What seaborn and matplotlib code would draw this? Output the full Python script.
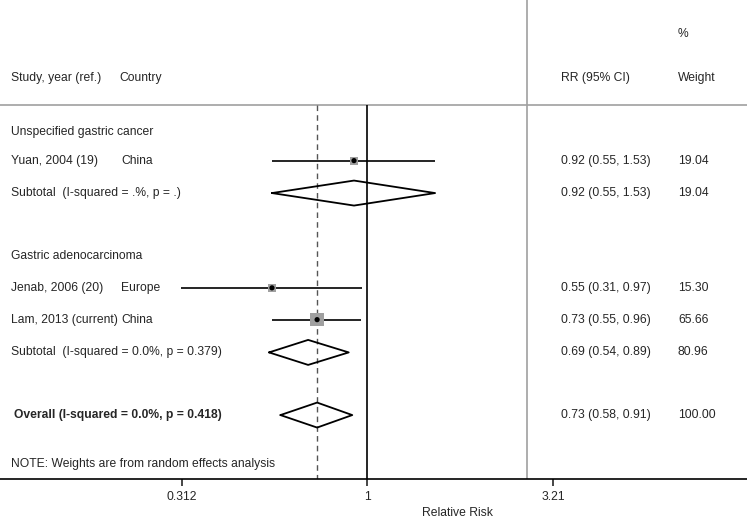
import matplotlib
matplotlib.use("Agg")
import matplotlib.pyplot as plt
import numpy as np
import pandas as pd
import seaborn as sns

# Data
studies = ["Yuan, 2004 (19)", "Jenab, 2006 (20)", "Lam, 2013 (current)"]
countries = ["China", "Europe", "China"]
study_rr = [0.92, 0.55, 0.73]
study_lo = [0.55, 0.31, 0.55]
study_hi = [1.53, 0.97, 0.96]
study_wt = [19.04, 15.30, 65.66]
study_row = [1, 5, 6]

groups = ["Unspecified gastric cancer", "Gastric adenocarcinoma"]
group_row = [0.09, 4]

sub_labels = ["Subtotal  (I-squared = .%, p = .)", "Subtotal  (I-squared = 0.0%, p = 0.379)"]
sub_rr = [0.92, 0.69]
sub_lo = [0.55, 0.54]
sub_hi = [1.53, 0.89]
sub_wt = [19.04, 80.96]
sub_row = [2.02, 7.03]

overall_label = "Overall (I-squared = 0.0%, p = 0.418)"
overall_rr, overall_lo, overall_hi, overall_wt = 0.73, 0.58, 0.91, 100.00
overall_row = 9

tick_vals = [0.312, 1, 3.21]
tick_labels = ["0.312", "1", "3.21"]

df = pd.DataFrame({"study": studies, "rr": study_rr, "lo": study_lo,
                   "hi": study_hi, "weight": study_wt, "row": study_row})

sns.set_style("white")
plt.rcParams["font.family"] = ["Liberation Sans", "DejaVu Sans"]
fs = 8.7

fig = plt.figure(figsize=(7.47, 5.2), dpi=100)
ax = fig.add_axes([0, 41 / 520, 1, 479 / 520])
ax.set_xscale("log")
ax.set_xlim(0.0999, 10.82)
ax.set_ylim(11.01, -4.05)

for s in ["top", "left", "right"]:
    ax.spines[s].set_visible(False)
ax.spines["bottom"].set_linewidth(1.2)
ax.spines["bottom"].set_color("black")
ax.set_yticks([])
ax.set_xticks(tick_vals)
ax.set_xticklabels(tick_labels, fontsize=fs)
ax.minorticks_off()
ax.tick_params(axis="x", direction="out", length=5, width=1.2, pad=4, bottom=True)

line_top = -0.75
# gray frame lines
ax.axhline(line_top, color="#a0a0a0", lw=1.2, zorder=1)
ax.axvline(2.72, ymin=0, ymax=1, color="#a0a0a0", lw=1.2, zorder=1)
# null line and overall estimate line
ax.vlines(1, line_top, 11.01, color="black", lw=1.2, zorder=2)
ax.vlines(overall_rr, line_top, 11.01, color="#555555", lw=1, ls=(0, (4, 3)), zorder=2)

# confidence intervals
ax.hlines(df["row"], df["lo"], df["hi"], color="black", lw=1.2, zorder=3)
# weight squares
sns.scatterplot(data=df, x="rr", y="row", size="weight", sizes=(30, 95),
                size_norm=(15.30, 65.66), marker="s", color="#a0a0a0",
                edgecolor="none", legend=False, ax=ax, zorder=4)
sns.scatterplot(data=df, x="rr", y="row", color="black", s=14,
                edgecolor="none", legend=False, ax=ax, zorder=5)
ax.set_xlabel("")
ax.set_ylabel("")

# diamonds
half = 12.5 / 31.8
def diamond(row, est, lo, hi):
    xs = [lo, est, hi, est, lo]
    ys = [row, row - half, row, row + half, row]
    ax.plot(xs, ys, color="black", lw=1.3, zorder=3)

for r, e, l, h in zip(sub_row, sub_rr, sub_lo, sub_hi):
    diamond(r, e, l, h)
diamond(overall_row, overall_rr, overall_lo, overall_hi)

# text columns
tr = ax.get_yaxis_transform()
x_study = 11 / 747
x_country = 121 / 747
x_rr = 561 / 747
x_wt = 678 / 747
kw = dict(transform=tr, va="center", ha="left", fontsize=fs)

ax.text(x_study, -1.6, "Study, year (ref.)", **kw)
ax.text(x_country - 2 / 747, -1.6, "Country", **kw)
ax.text(x_rr, -1.6, "RR (95% CI)", **kw)
ax.text(x_wt, -1.6, "Weight", **kw)
ax.text(x_wt, -2.98, "%", **kw)

for g, r in zip(groups, group_row):
    ax.text(x_study, r, g, **kw)

for i in range(len(studies)):
    ax.text(x_study, study_row[i], studies[i], **kw)
    ax.text(x_country, study_row[i], countries[i], **kw)
    ax.text(x_rr, study_row[i], f"{study_rr[i]:.2f} ({study_lo[i]:.2f}, {study_hi[i]:.2f})", **kw)
    ax.text(x_wt, study_row[i], f"{study_wt[i]:.2f}", **kw)

for i in range(len(sub_labels)):
    ax.text(x_study, sub_row[i], sub_labels[i], **kw)
    ax.text(x_rr, sub_row[i], f"{sub_rr[i]:.2f} ({sub_lo[i]:.2f}, {sub_hi[i]:.2f})", **kw)
    ax.text(x_wt, sub_row[i], f"{sub_wt[i]:.2f}", **kw)

ax.text(14 / 747, overall_row, overall_label, fontweight="bold", **kw)
ax.text(x_rr, overall_row, f"{overall_rr:.2f} ({overall_lo:.2f}, {overall_hi:.2f})", **kw)
ax.text(x_wt, overall_row, f"{overall_wt:.2f}", **kw)

ax.text(x_study, 10.53, "NOTE: Weights are from random effects analysis", **kw)

fig.text(457 / 747, 1 - 513 / 520, "Relative Risk", ha="center", va="center", fontsize=fs)

fig.savefig("out.png", dpi=100)
